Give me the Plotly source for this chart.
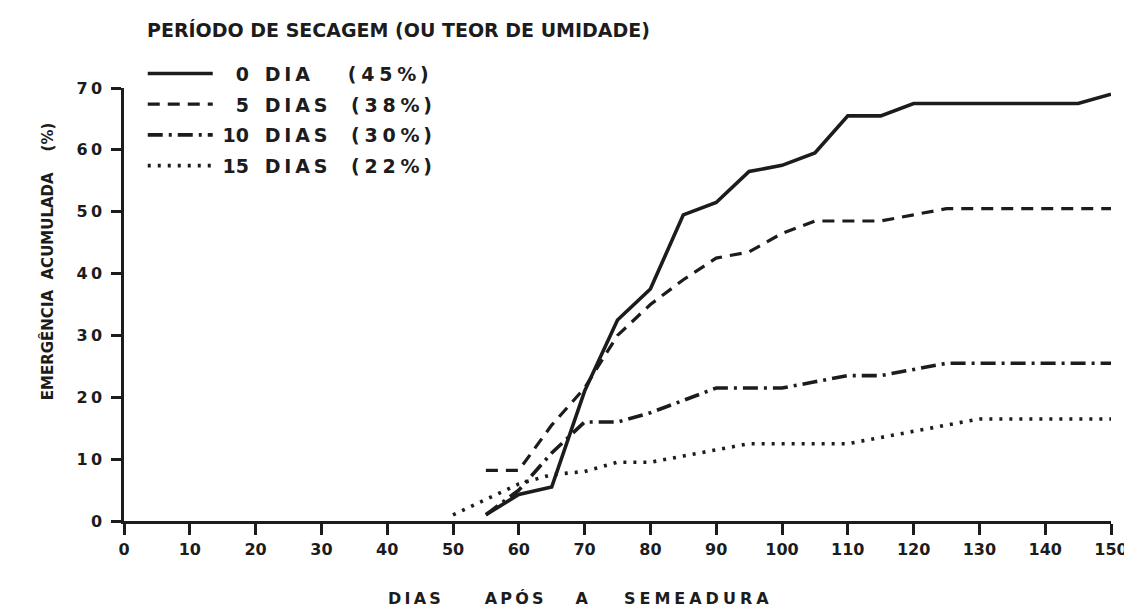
import plotly.graph_objects as go

days_0 = [55, 60, 65, 70, 75, 80, 85, 90, 95, 100, 105, 110, 115, 120, 125, 130, 135, 140, 145, 150]
em_0 = [1, 4.3, 5.5, 21, 32.5, 37.5, 49.5, 51.5, 56.5, 57.5, 59.5, 65.5, 65.5, 67.5, 67.5, 67.5, 67.5, 67.5, 67.5, 69]

days_5 = [55, 60, 65, 70, 75, 80, 85, 90, 95, 100, 105, 110, 115, 120, 125, 130, 135, 140, 145, 150]
em_5 = [8.2, 8.2, 15.5, 21.5, 30, 35, 39, 42.5, 43.5, 46.5, 48.5, 48.5, 48.5, 49.5, 50.5, 50.5, 50.5, 50.5, 50.5, 50.5]

days_10 = [55, 60, 65, 70, 75, 80, 85, 90, 95, 100, 105, 110, 115, 120, 125, 130, 135, 140, 145, 150]
em_10 = [1, 5, 11, 16, 16, 17.5, 19.5, 21.5, 21.5, 21.5, 22.5, 23.5, 23.5, 24.5, 25.5, 25.5, 25.5, 25.5, 25.5, 25.5]

days_15 = [50, 55, 60, 65, 70, 75, 80, 85, 90, 95, 100, 105, 110, 115, 120, 125, 130, 135, 140, 145, 150]
em_15 = [1, 3.5, 6, 7.5, 8, 9.5, 9.5, 10.5, 11.5, 12.5, 12.5, 12.5, 12.5, 13.5, 14.5, 15.5, 16.5, 16.5, 16.5, 16.5, 16.5]

periods = ["0", "5", "10", "15"]
units = ["DIA", "DIAS", "DIAS", "DIAS"]
moisture = ["45", "38", "30", "22"]

x_ticks = list(range(0, 151, 10))
y_ticks = list(range(0, 71, 10))

INK = "#1c1c1c"
FONT = "DejaVu Sans"
THIN = "\u2009"
EN = "\u2002"
FOUR = "\u2005"
FIG = "\u2007"


def spaced(s, sep=THIN):
    return sep.join(s)


def legend_label(p, u, m):
    num = p if len(p) == 2 else FIG + p
    gap = EN * 2 + FOUR if u == "DIAS" else EN * 3 + FOUR * 2
    pct = "(" + FOUR + spaced(m, FOUR) + FOUR + "%" + THIN + ")"
    return FOUR + num + EN + "\u2004" + spaced(u) + gap + pct


fig = go.Figure()
styles = [("solid", 3.6), ("12px,8px", 3.2), ("15px,6px,3px,6px", 3.6), ("3px,7px", 3.6)]
data = [(days_0, em_0), (days_5, em_5), (days_10, em_10), (days_15, em_15)]
for i, ((xs, ys), (dash, w)) in enumerate(zip(data, styles)):
    fig.add_trace(go.Scatter(
        x=xs, y=ys, mode="lines", name=legend_label(periods[i], units[i], moisture[i]),
        legendgroup=f"g{i}", line=dict(color=INK, width=w, dash=dash),
    ))

x_title = (spaced("DIAS") + EN * 5 + FOUR + spaced("APÓS") + EN * 4 + "A"
           + EN * 4 + FOUR + spaced("SEMEADURA", FOUR))

fig.update_layout(
    width=1132, height=607,
    paper_bgcolor="white", plot_bgcolor="white",
    margin=dict(l=116, r=19, t=80, b=94),
    font=dict(family=FONT, size=15, color=INK, weight="bold"),
    showlegend=True,
    legend=dict(
        x=0.019, y=1.077, xanchor="left", yanchor="top",
        bgcolor="rgba(0,0,0,0)", itemwidth=65, tracegroupgap=3,
        font=dict(family=FONT, size=19, color=INK, weight="bold"),
        traceorder="grouped",
    ),
    xaxis=dict(
        range=[0, 150], tickvals=x_ticks, ticktext=[str(v) for v in x_ticks],
        showline=True, linecolor=INK, linewidth=2.5,
        ticks="outside", ticklen=11, tickwidth=2.5, tickcolor=INK,
        showgrid=False, zeroline=False, ticklabelstandoff=1,
        tickfont=dict(family=FONT, size=16, color=INK, weight="bold"),
    ),
    yaxis=dict(
        range=[0, 70], tickvals=y_ticks, ticktext=[spaced(str(v)) for v in y_ticks],
        showline=True, linecolor=INK, linewidth=2.5,
        ticks="outside", ticklen=10, tickwidth=2.5, tickcolor=INK,
        showgrid=False, zeroline=False, ticklabelstandoff=6,
        tickfont=dict(family=FONT, size=16, color=INK, weight="bold"),
    ),
    annotations=[
        dict(text="PERÍODO DE SECAGEM (OU TEOR DE UMIDADE)", xref="paper", yref="paper",
             x=0.021, y=1.133, xanchor="left", yanchor="middle", showarrow=False,
             font=dict(family=FONT, size=19, color=INK, weight="bold")),
        dict(text="EMERGÊNCIA\u00a0\u00a0ACUMULADA\u00a0\u00a0\u00a0\u00a0(%)", xref="paper", yref="paper",
             x=-0.078, y=0.6, xanchor="center", yanchor="middle", textangle=-90,
             showarrow=False, font=dict(family=FONT, size=15, color=INK, weight="bold")),
        dict(text=x_title, xref="paper", yref="paper",
             x=0.4604, y=-0.18, xanchor="center", yanchor="middle", showarrow=False,
             font=dict(family=FONT, size=16, color=INK, weight="bold")),
    ],
)

fig.write_html("out.html")
